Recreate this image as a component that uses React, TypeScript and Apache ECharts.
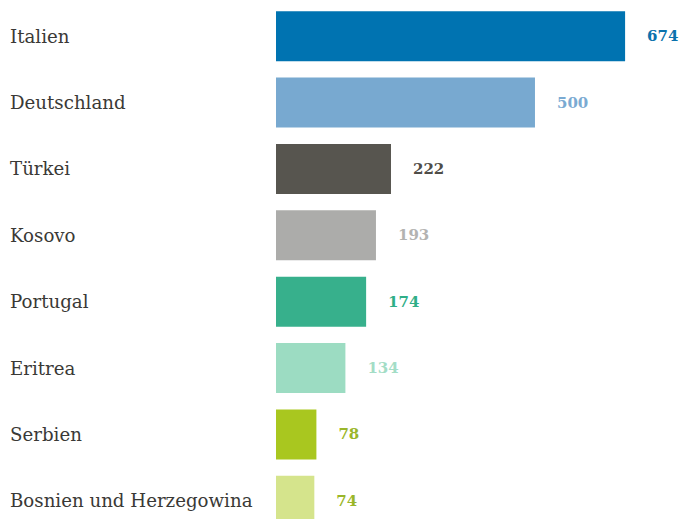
import React, { useEffect, useRef } from "react";
import * as echarts from "echarts";

const categories = [
  "Italien",
  "Deutschland",
  "Türkei",
  "Kosovo",
  "Portugal",
  "Eritrea",
  "Serbien",
  "Bosnien und Herzegowina",
];
const values = [674, 500, 222, 193, 174, 134, 78, 74];
const barColors = ["#0073b1", "#78a9d0", "#57554f", "#acacaa", "#37b08c", "#9cdcc2", "#a9c71f", "#d5e48c"];
const labelColors = ["#0a72ad", "#7aaad2", "#4f4d48", "#b3b3b1", "#2fae87", "#a3ddc6", "#9ab62a", "#9ab62a"];

export default function App() {
  const ref = useRef<HTMLDivElement>(null);
  useEffect(() => {
    if (!ref.current) return;
    const chart = echarts.init(ref.current, undefined, { renderer: "svg" });
    chart.setOption({
      animation: false,
      grid: { left: 276, top: 3, width: 404, height: 531, containLabel: false },
      xAxis: {
        type: "value",
        min: 0,
        max: 780,
        show: false,
      },
      yAxis: {
        type: "category",
        data: categories,
        inverse: true,
        axisLine: { show: false },
        axisTick: { show: false },
        axisLabel: {
          align: "left",
          margin: 266,
          fontFamily: "DejaVu Serif",
          fontSize: 18.2,
          color: "#3a3936",
        },
      },
      series: [
        {
          type: "bar",
          barWidth: 50,
          data: values.map((v, i) => ({
            value: v,
            itemStyle: { color: barColors[i] },
            label: { color: labelColors[i] },
          })),
          label: {
            show: true,
            position: "right",
            distance: 22,
            fontFamily: "DejaVu Serif",
            fontWeight: "bold",
            fontSize: 15,
          },
        },
      ],
    });
    return () => chart.dispose();
  }, []);
  return (
    <div style={{ position: "fixed", left: 0, top: 0, width: 681, height: 519, overflow: "hidden", background: "#fff" }}>
      <div ref={ref} style={{ width: 681, height: 540 }} />
    </div>
  );
}
